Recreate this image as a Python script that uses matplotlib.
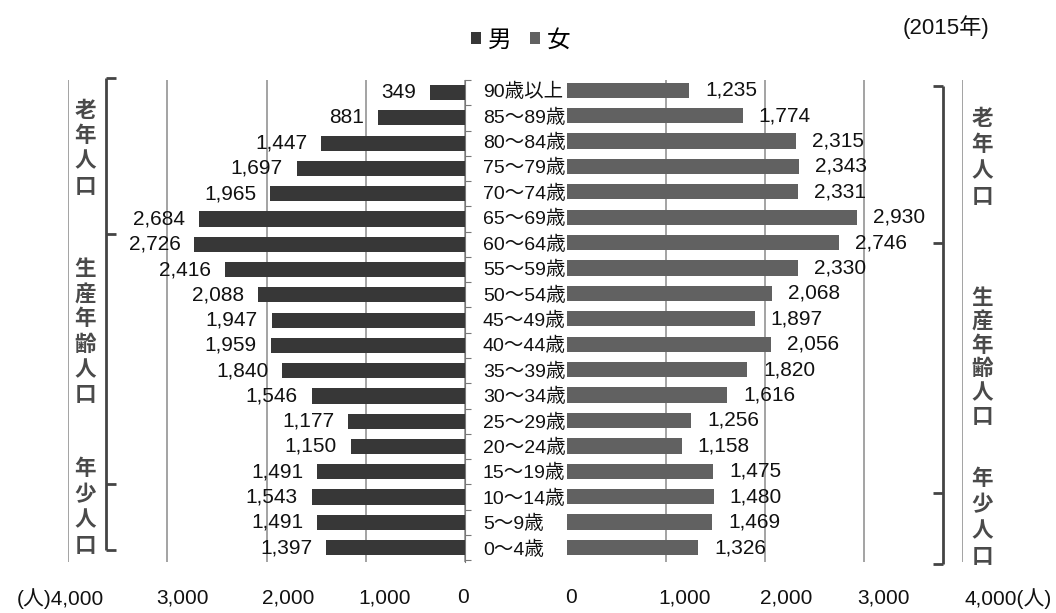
import numpy as np
import matplotlib
matplotlib.use("Agg")
import matplotlib.pyplot as plt
from matplotlib.transforms import ScaledTranslation

NUMFAM = ['Liberation Sans', 'DejaVu Sans', 'Noto Sans CJK JP']
plt.rcParams['font.family'] = NUMFAM

ages = ["90歳以上", "85～89歳", "80～84歳", "75～79歳", "70～74歳", "65～69歳",
        "60～64歳", "55～59歳", "50～54歳", "45～49歳", "40～44歳", "35～39歳",
        "30～34歳", "25～29歳", "20～24歳", "15～19歳", "10～14歳", "5～9歳", "0～4歳"]
male = [349, 881, 1447, 1697, 1965, 2684, 2726, 2416, 2088, 1947, 1959, 1840,
        1546, 1177, 1150, 1491, 1543, 1491, 1397]
female = [1235, 1774, 2315, 2343, 2331, 2930, 2746, 2330, 2068, 1897, 2056, 1820,
          1616, 1256, 1158, 1475, 1480, 1469, 1326]
xticks = [0, 1000, 2000, 3000, 4000]
left_ticklabels = ["0", "1,000", "2,000", "3,000", "(人)4,000"]
right_ticklabels = ["0", "1,000", "2,000", "3,000", "4,000(人)"]
left_label_offsets = [-2, 19, 22, 15, -8]    # px
right_label_offsets = [4, 19, 21, 20, 45]    # px
groups = ["老年人口", "生産年齢人口", "年少人口"]

W, H = 1056, 613
fig = plt.figure(figsize=(W / 100, H / 100), dpi=100)
ax_l = fig.add_axes([68 / W, (H - 562) / H, 397 / W, 482 / H])
ax_r = fig.add_axes([567 / W, (H - 562) / H, 396 / W, 482 / H])

y = np.arange(len(ages))
c_m, c_f = '#373737', '#616161'
bm = ax_l.barh(y, male, height=0.6, color=c_m, zorder=3, label='男')
bf = ax_r.barh(y, female, height=0.6, color=c_f, zorder=3, label='女')

ax_l.set_xlim(4000, 0)
ax_r.set_xlim(0, 4000)
for ax in (ax_l, ax_r):
    ax.set_ylim(18.57, -0.4)

lab_font = dict(fontsize=15, family=NUMFAM, color='#111')
for yi, v in zip(y, male):
    ax_l.annotate(f"{v:,}", (v, yi), xytext=(-10, 0), textcoords='offset points',
                  ha='right', va='center', **lab_font)
for yi, v in zip(y, female):
    ax_r.annotate(f"{v:,}", (v, yi), xytext=(11.5, 0), textcoords='offset points',
                  ha='left', va='center', **lab_font)

for ax, labs, offs in [(ax_l, left_ticklabels, left_label_offsets),
                       (ax_r, right_ticklabels, right_label_offsets)]:
    ax.set_xticks(xticks)
    ax.set_xticklabels(labs)
    ax.tick_params(axis='x', length=0, pad=19, labelsize=15)
    for lbl, o in zip(ax.get_xticklabels(), offs):
        lbl.set_family(NUMFAM)
        lbl.set_color('#111')
        lbl.set_transform(lbl.get_transform() + ScaledTranslation(o / 100, 0, fig.dpi_scale_trans))
    ax.grid(axis='x', color='#8a8a8a', lw=1.1, zorder=0)
    ax.set_axisbelow(True)
    for s in ax.spines.values():
        s.set_visible(False)

ax_r.get_xgridlines()[0].set_visible(False)

# left axis (value 0) with boundary ticks
ax_l.spines['right'].set_visible(True)
ax_l.spines['right'].set_color('#777')
ax_l.yaxis.tick_right()
ax_l.set_yticks(np.arange(-0.5, len(ages), 1))
ax_l.tick_params(axis='y', which='both', right=True, left=False, labelright=False, labelleft=False,
                 length=4, color='#777', direction='out')

# age labels as y tick labels of the right axes
ax_r.set_yticks(y)
ax_r.set_yticklabels(ages)
ax_r.tick_params(axis='y', length=0, pad=60.5, labelleft=True, labelsize=14)
for lbl in ax_r.get_yticklabels():
    lbl.set_ha('left')
    lbl.set_family(['Liberation Sans', 'Noto Sans CJK JP'])
    lbl.set_color('#111')

# brackets
def bracket(ax, x0, x1, ys, color='#444'):
    ax.plot([x0, x0], [ys[0], ys[-1]], color=color, lw=2, clip_on=False, solid_capstyle='butt')
    for yy in ys:
        ax.plot([x0, x1], [yy, yy], color=color, lw=2, clip_on=False, solid_capstyle='butt')

bracket(ax_l, 3620, 3520, [-0.59, 5.59, 15.5, 18.11])
bracket(ax_r, 3798, 3697, [-0.16, 6.03, 15.87, 18.63])

# vertical group labels, one character at a time (top, bottom in px)
gfont = dict(fontsize=15.5, family=['Noto Sans CJK JP'], weight='bold', color='#4a4a4a',
             ha='center', va='center')
left_spans = [(100, 197), (258, 405), (458, 556)]
right_spans = [(108, 207), (287, 427), (468, 567)]
ch = 21
for xc, spans in [(85, left_spans), (982, right_spans)]:
    for g, (t, b) in zip(groups, spans):
        n = len(g)
        step = (b - t - ch) / (n - 1)
        for i, c in enumerate(g):
            cy = t + ch / 2 + i * step
            fig.text(xc / W, 1 - cy / H, c, **gfont)

# legend & year
leg = fig.legend(handles=[bm, bf], labels=['男', '女'], loc='center', bbox_to_anchor=(521 / W, 1 - 40 / H),
                 ncol=2, frameon=False, handlelength=0.4, handleheight=0.4, handletextpad=0.3,
                 columnspacing=0.8, prop={'family': ['Noto Sans CJK JP'], 'size': 17})
fig.text(946 / W, 1 - 27 / H, "(2015年)", fontsize=16, family=NUMFAM,
         ha='center', va='center', color='#111')

fig.savefig("out.png", dpi=100)
